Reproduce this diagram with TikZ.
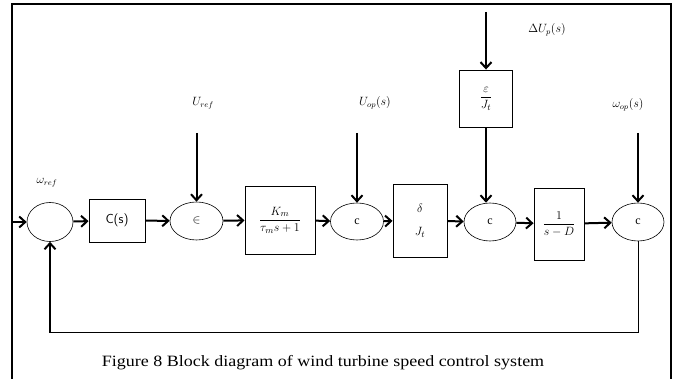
\documentclass[tikz,border=0pt]{standalone}
\usepackage{amsmath}
\usepackage{fontspec}
\setmainfont{Liberation Serif}
\usetikzlibrary{arrows.meta,shapes.geometric}
\begin{document}
\begin{tikzpicture}[x=1pt,y=-1pt,
  sumnode/.style={draw,ellipse,inner sep=0pt,line width=0.6pt,font=\fontsize{12}{14}\selectfont},
  blk/.style={draw,rectangle,inner sep=0pt,line width=0.9pt,font=\fontsize{13}{15}\selectfont},
  sig/.style={line width=2pt,-{Straight Barb[length=6pt,width=11pt,line width=2pt]}},
  thin/.style={line width=1pt},
  lbl/.style={inner sep=0pt,font=\fontsize{12}{14}\selectfont}]
\useasboundingbox (0,0) rectangle (678,379);
% frame
\draw[line width=2pt] (12,379) -- (12,4) -- (671,4) -- (671,379);
% summing junctions
\node[sumnode,minimum width=46pt,minimum height=39pt] (s1) at (50,222) {};
\node[sumnode,minimum width=53pt,minimum height=38pt] (s2) at (196.5,221) {$\in$};
\node[sumnode,minimum width=53pt,minimum height=37pt] (s3) at (357,221.5) {c};
\node[sumnode,minimum width=52pt,minimum height=38pt] (s4) at (490,222) {c};
\node[sumnode,minimum width=52pt,minimum height=38pt] (s5) at (638,222) {c};
% blocks
\node[blk,minimum width=56pt,minimum height=43pt] (cs) at (117,220.5) {\textsf{C(s)}};
\node[blk,minimum width=70pt,minimum height=68pt] (km) at (280,220) {$\dfrac{K_m}{\tau_m s+1}$};
\node[blk,minimum width=54pt,minimum height=73pt,align=center] (dj) at (420,220.5) {$\delta$\\[8pt]$J_t$};
\node[blk,minimum width=53pt,minimum height=57pt] (ej) at (486,98.5) {$\dfrac{\varepsilon}{J_t}$};
\node[blk,minimum width=50pt,minimum height=72pt] (sd) at (559,224) {$\dfrac{1}{s-D}$};
% labels
\node[lbl] (lwref) at (47,183) {$\omega_{ref}$};
\node[lbl] (luref) at (203,103) {$U_{ref}$};
\node[lbl] (luop) at (375,103) {$U_{op}(s)$};
\node[lbl] (ldu) at (547,30) {$\Delta U_p(s)$};
\node[lbl] (lwop) at (628,105) {$\omega_{op}(s)$};
% input coordinates
\coordinate (in0) at (12,222);
\coordinate (t2) at (196.5,133);
\coordinate (t3) at (357,133);
\coordinate (t5) at (638,133);
\coordinate (tej) at (486,12);
\coordinate (fb1) at (638,333);
\coordinate (fb2) at (50,333);
% forward path
\draw[sig] (in0) -- (s1);
\draw[sig] (s1) -- (cs);
\draw[sig] (cs) -- (s2);
\draw[sig] (s2) -- (km);
\draw[sig] (km) -- (s3);
\draw[sig] (s3) -- (dj);
\draw[sig] (dj) -- (s4);
\draw[sig] (s4) -- (sd);
\draw[sig] (sd) -- (s5);
% vertical inputs
\draw[sig] (t2) -- (s2);
\draw[sig] (t3) -- (s3);
\draw[sig] (t5) -- (s5);
\draw[sig] (tej) -- (ej);
\draw[sig] (ej.south) -- (ej.south |- s4.north);
% feedback
\draw[thin] (s5.south) -- (fb1) -- (fb2);
\draw[sig] (fb2) -- (s1.south);
% caption
\node[inner sep=0pt,font=\fontsize{15}{18}\selectfont] (cap) at (323,363) {\scalebox{1.2}[1.05]{Figure 8 Block diagram of wind turbine speed control system}};
\end{tikzpicture}
\end{document}
